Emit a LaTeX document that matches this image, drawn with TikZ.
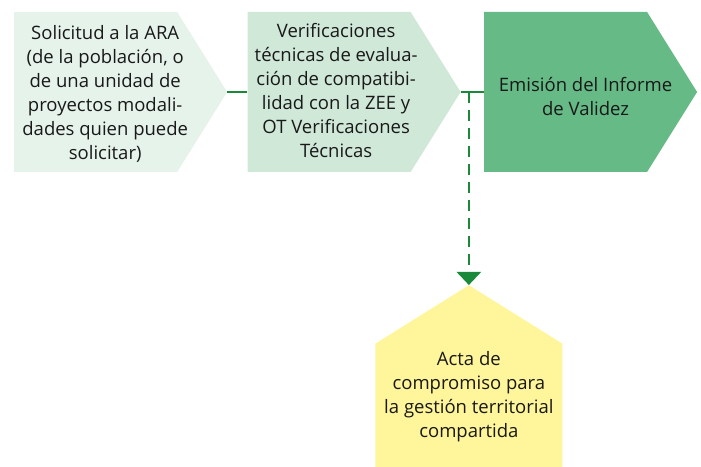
\documentclass[tikz,border=0pt]{standalone}
\usepackage{fontspec}
\setmainfont{Open Sans}
\usetikzlibrary{positioning,shapes.symbols,arrows.meta}
\definecolor{pasoA}{HTML}{E6F3EA}
\definecolor{pasoB}{HTML}{CFE8D8}
\definecolor{pasoC}{HTML}{66BA86}
\definecolor{amarillo}{HTML}{FFF59A}
\definecolor{verde}{HTML}{1A8A3A}
% texto centrado, corrido (x, y)
\newcommand{\rotulo}[3]{\raisebox{#2}[\height][\depth]{\makebox[0pt]{\hspace*{#1}\begin{tabular}{@{}c@{}}#3\end{tabular}}}}
\begin{document}
\begin{tikzpicture}[x=1pt, y=1pt, node distance=20pt,
    every node/.style={font=\fontsize{18.5}{24}\selectfont, text=black!90},
    paso/.style={signal, signal to=east, signal pointer angle=116, minimum width=213pt, minimum height=160pt, inner sep=2pt},
    enlace/.style={draw=verde, line width=2.5pt}]
  \useasboundingbox (0,0) rectangle (701,466);
  \node[paso, fill=pasoA, anchor=west] (sol) at (14,374) {\rotulo{19pt}{-3pt}{Solicitud a la ARA\\(de la población, o\\de una unidad de\\proyectos modali-\\dades quien puede\\solicitar)}};
  \node[paso, fill=pasoB, right=20pt of sol] (ver) {\rotulo{14pt}{-1pt}{Verificaciones\\técnicas de evalua-\\ción de compatibi-\\lidad con la ZEE y\\OT Verificaciones\\Técnicas}};
  \node[paso, fill=pasoC, right=23pt of ver] (emi) {\rotulo{40pt}{-7pt}{Emisión del Informe\\de Validez}};
  \coordinate[right=8pt of ver.east] (tee);
  \node[paso, signal to=north, fill=amarillo, minimum width=187pt, minimum height=181pt, below=193pt of tee] (acta) {\raisebox{10pt}[\height][\depth]{\begin{tabular}{@{}c@{}}Acta de\\compromiso para\\la gestión territorial\\compartida\end{tabular}}};

  \draw[enlace] (sol.east) -- (ver.west);
  \draw[enlace] (ver.east) -- (emi.west);
  \draw[enlace, dash pattern=on 11pt off 7pt, -{Triangle[width=24pt,length=13pt]}] (tee) -- (acta.north);
\end{tikzpicture}
\end{document}
